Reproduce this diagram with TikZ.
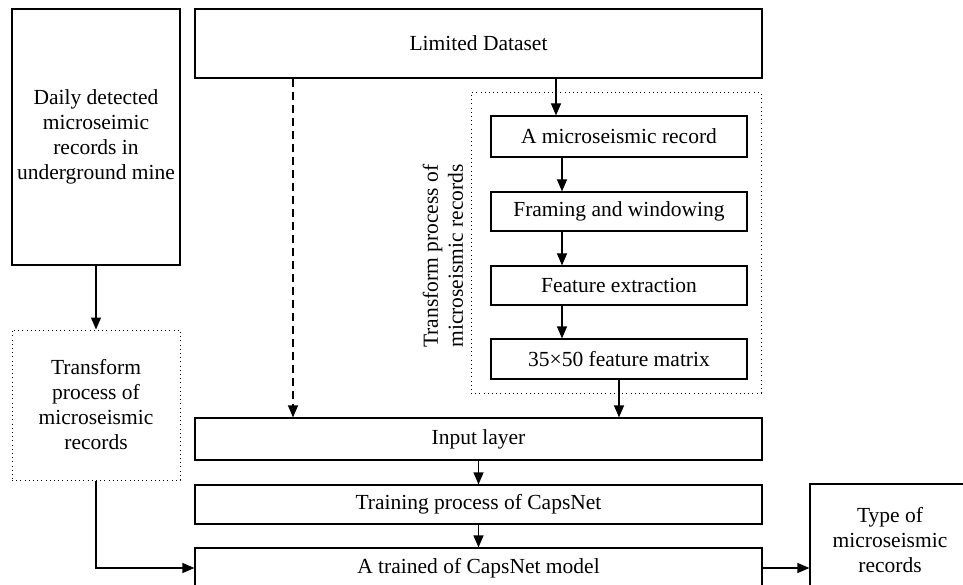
\documentclass[tikz,border=0pt]{standalone}
\usepackage{fontspec}
\setmainfont{Liberation Serif}
\usetikzlibrary{arrows.meta}
\begin{document}
\begin{tikzpicture}[x=1pt,y=-1pt,
  font=\fontsize{21.5}{25}\selectfont,
  box/.style={draw,line width=1.2pt,inner sep=0pt,align=center},
  dotbox/.style={draw,line width=1pt,dash pattern=on 1pt off 3.2pt,inner sep=0pt,align=center},
  arr/.style={line width=1.2pt,-{Triangle[length=12pt,width=10pt]}},
  dasharr/.style={arr,dash pattern=on 8pt off 5pt}]
\useasboundingbox (0,0) rectangle (963,585);
\clip (0,0) rectangle (963,585);
% left column
\node[box,minimum width=168pt,minimum height=256pt] (daily) at (96,137) {Daily detected\\microseimic\\records in\\underground mine};
\node[dotbox,minimum width=168pt,minimum height=150pt] (leftdot) at (96,405) {Transform\\process of\\microseismic\\records};
% top
\node[box,minimum width=567pt,minimum height=69pt] (limited) at (478.5,43.5) {Limited Dataset};
% dotted transform group
\node[dotbox,minimum width=290pt,minimum height=300pt] (group) at (616,243) {};
\node[rotate=90,align=center] (grouplabel) at (443,256) {Transform process of\\microseismic records};
\node[box,minimum width=256pt,minimum height=41pt] (rec) at (619,136.5) {A microseismic record};
\node[box,minimum width=256pt,minimum height=39pt] (frame) at (619,211.5) {Framing and windowing};
\node[box,minimum width=256pt,minimum height=39pt] (feat) at (619,285.5) {Feature extraction};
\node[box,minimum width=256pt,minimum height=40pt] (mat) at (619,359) {35×50 feature matrix};
% lower chain
\node[box,minimum width=567pt,minimum height=42pt] (input) at (478.5,439) {Input layer};
\node[box,minimum width=567pt,minimum height=39pt] (train) at (478.5,504.5) {Training process of CapsNet};
\node[box,minimum width=567pt,minimum height=40pt] (trained) at (478.5,568) {A trained of CapsNet model};
\node[box,minimum width=160pt,minimum height=112pt] (type) at (890,540) {Type of\\microseismic\\records};
% helper coordinates
\coordinate (dx) at (293,0);
\coordinate (ax) at (556,0);
\coordinate (bx) at (562,0);
% connectors
\draw[arr] (daily.south) -- (leftdot.north);
\draw[dasharr] (limited.south -| dx) -- (input.north -| dx);
\draw[arr] (limited.south -| ax) -- (rec.north -| ax);
\draw[arr] (rec.south -| bx) -- (frame.north -| bx);
\draw[arr] (frame.south -| bx) -- (feat.north -| bx);
\draw[arr] (feat.south -| bx) -- (mat.north -| bx);
\draw[arr] (mat.south) -- (mat.south |- input.north);
\draw[arr] (input.south) -- (train.north);
\draw[arr] (train.south) -- (trained.north);
\draw[arr] (leftdot.south) |- (trained.west);
\draw[arr] (trained.east) -- (trained.east -| type.west);
\end{tikzpicture}
\end{document}
